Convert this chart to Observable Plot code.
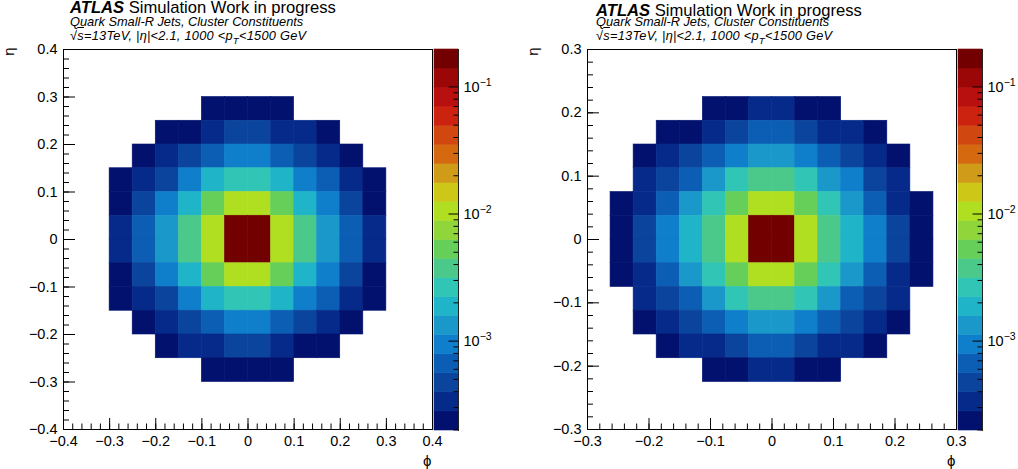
<!DOCTYPE html>
<html><head><meta charset="utf-8">
<script src="https://cdn.jsdelivr.net/npm/d3@7"></script>
<script src="https://cdn.jsdelivr.net/npm/@observablehq/plot@0.6"></script>
<style>
body{margin:0;background:#fff;}
#wrap{position:relative;width:1018px;height:469px;overflow:hidden;font-family:"Liberation Sans",Arial,Helvetica,sans-serif;color:#000;background:#fff;}
.abs{position:absolute;white-space:nowrap;line-height:1;}
.h1{font-size:16.6px;}
.h2{font-size:12.8px;font-style:italic;}
.h3{letter-spacing:0.25px;}
.ov{text-decoration:overline;}
sub{font-size:0.75em;vertical-align:-0.4em;line-height:0;}
</style></head><body><div id="wrap"></div>
<script>
// ---------- colour axis (log z, 20 contour levels) ----------
const zMin = 1.98e-4, zMax = 0.197, nContours = 20;
const palette = ["#03116e","#052a8a","#0a449c","#0c5db4","#0f7ecb","#1a98ca","#20b4c8","#30c5b5","#4ac98a","#65cf5a",
                 "#90d53a","#b0df22","#cdc817","#cf9b18","#d5690f","#d14710","#cc2310","#b80f0f","#9b0707","#730000"];
const cbarTicks = [1e-3, 1e-2, 1e-1];

// ---------- left panel (phi, eta in [-0.4, 0.4], 16x16 bins) ----------
const leftRange = [-0.4, 0.4];
const leftTicks = [-0.4, -0.3, -0.2, -0.1, 0, 0.1, 0.2, 0.3, 0.4];
// rows from top (eta high) to bottom, columns from phi low to high
const leftValues = [
 [0,0,0,0,0,0,0,0,0,0,0,0,0,0,0,0],
 [0,0,0,0,0,0,0,0,0,0,0,0,0,0,0,0],
 [0,0,0,0,0,0,2.3e-4,2.4e-4,2.4e-4,2.3e-4,0,0,0,0,0,0],
 [0,0,0,0,2.2e-4,2.3e-4,3.2e-4,4.6e-4,4.7e-4,3.4e-4,3.2e-4,2.3e-4,0,0,0,0],
 [0,0,0,2.3e-4,3.3e-4,4.8e-4,6.7e-4,9.4e-4,9.5e-4,6.6e-4,4.7e-4,3.3e-4,2.3e-4,0,0,0],
 [0,0,2.4e-4,3.4e-4,4.8e-4,9.6e-4,1.9e-3,2.7e-3,2.7e-3,1.9e-3,9.5e-4,6.5e-4,3.3e-4,2.4e-4,0,0],
 [0,0,2.5e-4,4.7e-4,9.6e-4,1.9e-3,5.3e-3,1.06e-2,1.07e-2,5.4e-3,1.9e-3,9.4e-4,4.8e-4,2.5e-4,0,0],
 [0,0,3.4e-4,6.6e-4,1.35e-3,3.8e-3,1.07e-2,0.185,0.186,1.06e-2,3.8e-3,1.35e-3,6.6e-4,3.4e-4,0,0],
 [0,0,3.4e-4,6.6e-4,1.35e-3,3.8e-3,1.06e-2,0.186,0.185,1.07e-2,3.8e-3,1.34e-3,6.7e-4,3.4e-4,0,0],
 [0,0,2.5e-4,4.7e-4,9.5e-4,1.9e-3,5.4e-3,1.06e-2,1.06e-2,5.3e-3,1.9e-3,9.5e-4,4.7e-4,2.5e-4,0,0],
 [0,0,2.4e-4,3.3e-4,4.7e-4,9.5e-4,1.9e-3,2.7e-3,2.7e-3,1.9e-3,9.4e-4,6.6e-4,3.3e-4,2.4e-4,0,0],
 [0,0,0,2.3e-4,3.3e-4,4.7e-4,6.6e-4,9.3e-4,9.4e-4,6.7e-4,4.8e-4,3.3e-4,2.3e-4,0,0,0],
 [0,0,0,0,2.3e-4,3.3e-4,3.3e-4,4.7e-4,4.6e-4,3.2e-4,2.4e-4,2.3e-4,0,0,0,0],
 [0,0,0,0,0,0,2.3e-4,2.4e-4,2.4e-4,2.3e-4,0,0,0,0,0,0],
 [0,0,0,0,0,0,0,0,0,0,0,0,0,0,0,0],
 [0,0,0,0,0,0,0,0,0,0,0,0,0,0,0,0]
];

// ---------- right panel (phi, eta in [-0.3, 0.3], 16x16 bins) ----------
const rightRange = [-0.3, 0.3];
const rightTicks = [-0.3, -0.2, -0.1, 0, 0.1, 0.2, 0.3];
const rightValues = [
 [0,0,0,0,0,0,0,0,0,0,0,0,0,0,0,0],
 [0,0,0,0,0,0,0,0,0,0,0,0,0,0,0,0],
 [0,0,0,0,0,2.3e-4,2.4e-4,3.2e-4,3.3e-4,2.4e-4,2.3e-4,0,0,0,0,0],
 [0,0,0,2.3e-4,2.4e-4,3.3e-4,4.7e-4,6.5e-4,6.6e-4,4.8e-4,3.3e-4,3.2e-4,2.4e-4,0,0,0],
 [0,0,2.3e-4,3.3e-4,4.7e-4,6.6e-4,9.4e-4,1.32e-3,1.33e-3,9.5e-4,6.5e-4,4.7e-4,3.3e-4,2.3e-4,0,0],
 [0,0,3.3e-4,4.8e-4,6.7e-4,1.33e-3,2.6e-3,3.7e-3,3.7e-3,2.6e-3,1.32e-3,9.4e-4,4.7e-4,3.3e-4,0,0],
 [0,2.4e-4,3.4e-4,6.7e-4,1.33e-3,2.7e-3,5.3e-3,1.05e-2,1.06e-2,5.3e-3,2.6e-3,1.32e-3,6.6e-4,3.4e-4,2.4e-4,0],
 [0,2.4e-4,4.8e-4,9.5e-4,1.9e-3,3.8e-3,1.06e-2,0.184,0.185,1.06e-2,3.8e-3,1.9e-3,9.5e-4,4.7e-4,2.4e-4,0],
 [0,2.4e-4,4.7e-4,9.5e-4,1.9e-3,3.7e-3,1.05e-2,0.185,0.184,1.05e-2,3.7e-3,1.9e-3,9.4e-4,4.8e-4,2.4e-4,0],
 [0,2.4e-4,3.3e-4,6.6e-4,1.32e-3,2.6e-3,5.3e-3,1.05e-2,1.05e-2,5.4e-3,2.6e-3,1.33e-3,6.6e-4,3.3e-4,2.4e-4,0],
 [0,0,3.3e-4,4.7e-4,6.6e-4,1.32e-3,2.6e-3,3.7e-3,3.8e-3,2.6e-3,1.33e-3,6.6e-4,4.7e-4,3.3e-4,0,0],
 [0,0,2.3e-4,3.3e-4,4.7e-4,6.6e-4,9.4e-4,1.32e-3,1.32e-3,9.4e-4,6.6e-4,4.7e-4,3.3e-4,2.3e-4,0,0],
 [0,0,0,2.3e-4,3.3e-4,3.2e-4,4.7e-4,6.6e-4,6.5e-4,4.7e-4,3.3e-4,3.2e-4,2.3e-4,0,0,0],
 [0,0,0,0,0,2.3e-4,2.4e-4,3.3e-4,3.3e-4,2.4e-4,2.3e-4,0,0,0,0,0],
 [0,0,0,0,0,0,0,0,0,0,0,0,0,0,0,0],
 [0,0,0,0,0,0,0,0,0,0,0,0,0,0,0,0]
];

// ---------- text ----------
const headLine1Bold = "ATLAS";
const headLine1 = " Simulation Work in progress";
const headLine2 = "Quark Small-R Jets, Cluster Constituents";
const xTitle = "ϕ", yTitle = "η";

// ---------- build ----------
const FONT = '"Liberation Sans", Arial, Helvetica, sans-serif';
const levels = d3.range(nContours + 1).map(i => zMin * Math.pow(zMax / zMin, i / nContours));
const colorOpts = {type: "threshold", domain: levels.slice(1, -1), range: palette};

function cellsFrom(values, xr, yr) {
  const ny = values.length, nx = values[0].length;
  const bx = (xr[1] - xr[0]) / nx, by = (yr[1] - yr[0]) / ny;
  const out = [];
  values.forEach((row, r) => row.forEach((v, k) => {
    if (v > 0) out.push({x1: xr[0] + k * bx, x2: xr[0] + (k + 1) * bx, y1: yr[1] - (r + 1) * by, y2: yr[1] - r * by, v});
  }));
  return out;
}

function heatmap(values, range, ticks) {
  const fmt = d => Math.abs(d) < 1e-9 ? "0" : d3.format(".1f")(d);
  const nMinor = Math.round((range[1] - range[0]) / 0.02);
  const minor = d3.range(nMinor + 1).map(i => range[0] + i * 0.02);
  return Plot.plot({
    width: 442, height: 469,
    marginLeft: 63, marginRight: 10, marginTop: 49, marginBottom: 40,
    style: {background: "transparent", overflow: "visible", fontFamily: FONT, fontSize: "14.5px", color: "black"},
    x: {domain: range},
    y: {domain: range},
    color: colorOpts,
    marks: [
      Plot.rect(cellsFrom(values, range, range), {x1: "x1", x2: "x2", y1: "y1", y2: "y2", fill: "v", stroke: "v", strokeWidth: 0.6}),
      Plot.frame({stroke: "black"}),
      Plot.axisX({ticks, tickSize: 0, tickPadding: 6, tickFormat: fmt, label: null}),
      Plot.axisX({ticks, tickSize: 11, dy: -11, fill: "none", label: null}),
      Plot.axisX({ticks: minor, tickSize: 5.5, dy: -5.5, fill: "none", label: null}),
      Plot.axisY({ticks, tickSize: 0, tickPadding: 6, tickFormat: fmt, label: null}),
      Plot.axisY({ticks, tickSize: 12, dx: 12, fill: "none", label: null}),
      Plot.axisY({ticks: minor, tickSize: 6, dx: 6, fill: "none", label: null}),
      Plot.text([xTitle], {frameAnchor: "bottom-right", textAnchor: "end", lineAnchor: "middle", dx: -1, dy: 32, fontSize: 15}),
      Plot.text([yTitle], {frameAnchor: "top-left", textAnchor: "end", lineAnchor: "middle", rotate: -90, dx: -54, dy: -2, fontSize: 15})
    ]
  });
}

function colorbar() {
  const bands = palette.map((c, i) => ({y1: levels[i], y2: levels[i + 1], v: Math.sqrt(levels[i] * levels[i + 1])}));
  const minor = [1e-4, 1e-3, 1e-2].flatMap(p => d3.range(2, 10).map(m => m * p)).filter(v => v >= zMin && v <= zMax);
  const svg = Plot.plot({
    width: 72, height: 469,
    marginLeft: 0, marginRight: 48, marginTop: 49, marginBottom: 39,
    style: {background: "transparent", overflow: "visible", fontFamily: FONT, fontSize: "14.5px", color: "black"},
    y: {type: "log", domain: [zMin, zMax]},
    color: colorOpts,
    marks: [
      Plot.rect(bands, {y1: "y1", y2: "y2", fill: "v", stroke: "v", strokeWidth: 0.6}),
      Plot.axisY({anchor: "right", ticks: cbarTicks, tickSize: 0, tickPadding: 5, tickFormat: d => "10^" + d3.format("d")(Math.round(Math.log10(d))), label: null}),
      Plot.axisY({anchor: "right", ticks: cbarTicks, tickSize: 10.5, dx: -10.5, fill: "none", label: null}),
      Plot.axisY({anchor: "right", ticks: minor, tickSize: 5.5, dx: -5.5, fill: "none", label: null}),
      Plot.frame({anchor: "right", stroke: "#222"})
    ]
  });
  svg.querySelectorAll("text").forEach(t => {
    const s = t.textContent;
    if (s.includes("^")) {
      const [base, exp] = s.split("^");
      t.textContent = "";
      const a = document.createElementNS("http://www.w3.org/2000/svg", "tspan");
      a.textContent = base;
      const b = document.createElementNS("http://www.w3.org/2000/svg", "tspan");
      b.textContent = exp;
      b.setAttribute("dy", "-0.55em");
      b.setAttribute("font-size", "10.5px");
      t.appendChild(a); t.appendChild(b);
    }
  });
  return svg;
}

const wrap = document.getElementById("wrap");
function place(el, left) { el.style.position = "absolute"; el.style.left = left + "px"; el.style.top = "0px"; wrap.appendChild(el); }

place(heatmap(leftValues, leftRange, leftTicks), 0);
place(colorbar(), 434);
place(heatmap(rightValues, rightRange, rightTicks), 524);
place(colorbar(), 958);

function header(left, topAtlas) {
  const h = (cls, top, html) => {
    const d = document.createElement("div");
    d.className = "abs " + cls; d.style.left = left + "px"; d.style.top = top + "px"; d.innerHTML = html;
    wrap.appendChild(d);
  };
  h("h1", topAtlas, `<b><i>${headLine1Bold}</i></b>${headLine1}`);
  h("h2", 15.9, headLine2);
  h("h2 h3", 29.9, `√<span class="ov">s</span>=13TeV, |η|&lt;2.1, 1000 &lt;p<sub>T</sub>&lt;1500 GeV`);
}
header(70, 0);
header(596, 3);
</script></body></html>
